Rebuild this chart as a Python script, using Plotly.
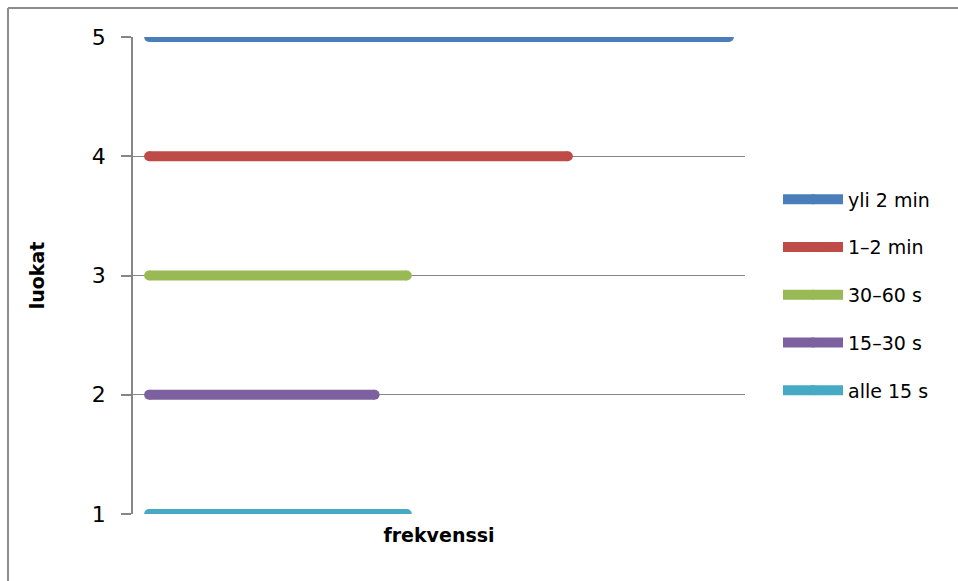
import plotly.graph_objects as go

# Data
categories = ["yli 2 min", "1–2 min", "30–60 s", "15–30 s", "alle 15 s"]
luokat = [5, 4, 3, 2, 1]
frekvenssi = [18, 13, 8, 7, 8]
colors = ["#4A7EBB", "#BE4B48", "#98B954", "#7D60A0", "#46AAC5"]
y_ticks = [1, 2, 3, 4, 5]

FONT = "DejaVu Sans"
GRID = "#868686"

fig = go.Figure()
for name, lv, fv, col in zip(categories, luokat, frekvenssi, colors):
    fig.add_trace(go.Scatter(
        x=[0, fv], y=[lv, lv], name=name, legendgroup=name,
        mode="lines+markers",
        line=dict(color=col, width=10),
        marker=dict(color=col, size=10, symbol="circle"),
        hoverinfo="skip",
    ))

W, H = 958, 581
ml, mr, mt, mb = 133, 213, 37, 67
pw, ph = W - ml - mr, H - mt - mb


def px_x(x):
    return (x - ml) / pw


def px_y(y):
    return (H - mb - y) / ph


border = dict(color="#8C8C8C", width=2)

fig.update_layout(
    width=W, height=H,
    margin=dict(l=ml, r=mr, t=mt, b=mb, pad=0),
    paper_bgcolor="white", plot_bgcolor="white",
    font=dict(family=FONT, size=19, color="black"),
    showlegend=True,
    legend=dict(
        x=px_x(778), y=px_y(295), xanchor="left", yanchor="middle",
        font=dict(family=FONT, size=19, color="black"),
        tracegroupgap=20, itemwidth=60, bgcolor="rgba(0,0,0,0)",
    ),
    xaxis=dict(
        range=[-0.5, 18.5], showgrid=False, zeroline=False,
        showticklabels=False, ticks="", showline=False,
        title=dict(text="<b>frekvenssi</b>", font=dict(family=FONT, size=19), standoff=14),
        fixedrange=True,
    ),
    yaxis=dict(
        range=[1, 5], tickvals=y_ticks, ticktext=[str(v) for v in y_ticks],
        showgrid=True, gridcolor=GRID, gridwidth=1,
        zeroline=False, showline=True, linecolor=GRID, linewidth=1.5,
        ticks="outside", ticklen=10, tickcolor=GRID, tickwidth=1.5,
        ticklabelstandoff=11,
        tickfont=dict(family=FONT, size=22),
        title=dict(text="<b>luokat</b>", font=dict(family=FONT, size=19), standoff=42),
        fixedrange=True,
    ),
    shapes=[
        dict(type="line", xref="paper", yref="paper",
             x0=px_x(8), x1=px_x(W + 5), y0=px_y(8), y1=px_y(8), line=border),
        dict(type="line", xref="paper", yref="paper",
             x0=px_x(8), x1=px_x(8), y0=px_y(8), y1=px_y(H + 5), line=border),
    ],
)

fig.write_html("out.html")
